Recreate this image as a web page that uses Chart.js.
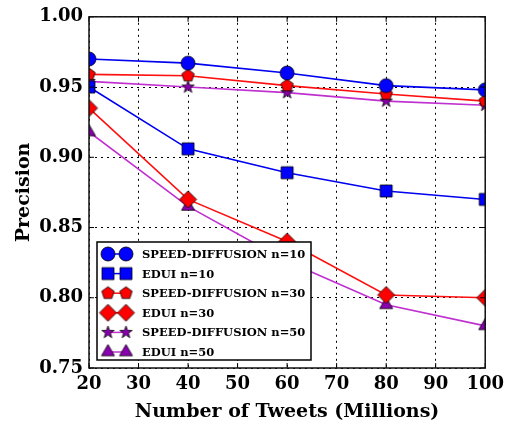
<!DOCTYPE html>
<html>
<head>
<meta charset="utf-8">
<script src="https://cdn.jsdelivr.net/npm/chart.js@4/dist/chart.umd.min.js"></script>
<style>
  body { margin: 0; background: #fff; }
  canvas { display: block; }
</style>
</head>
<body>
<canvas id="grafico" width="510" height="425"></canvas>
<script>
// datos
const tweets = [20, 40, 60, 80, 100];
const speed10 = [0.970, 0.967, 0.960, 0.951, 0.948];
const edui10 = [0.950, 0.906, 0.889, 0.876, 0.870];
const speed30 = [0.959, 0.958, 0.951, 0.945, 0.940];
const edui30 = [0.935, 0.870, 0.840, 0.802, 0.800];
const speed50 = [0.954, 0.950, 0.946, 0.940, 0.937];
const edui50 = [0.918, 0.865, 0.826, 0.795, 0.780];

const xTicks = [20, 30, 40, 50, 60, 70, 80, 90, 100];
const yTicks = [0.75, 0.80, 0.85, 0.90, 0.95, 1.00];

const FUENTE = "'DejaVu Serif', serif";

// ============================
// Marcadores (estilo matplotlib)
// ============================
function marcador(forma, r, color) {
  const s = Math.ceil(r * 2 + 4);
  const c = document.createElement("canvas");
  c.width = s; c.height = s;
  const ctx = c.getContext("2d");
  const cx = s / 2, cy = s / 2;
  ctx.beginPath();
  if (forma === "circulo") {
    ctx.arc(cx, cy, r, 0, Math.PI * 2);
  } else if (forma === "cuadrado") {
    ctx.rect(cx - r, cy - r, 2 * r, 2 * r);
  } else if (forma === "rombo") {
    ctx.moveTo(cx, cy - r); ctx.lineTo(cx + r, cy);
    ctx.lineTo(cx, cy + r); ctx.lineTo(cx - r, cy);
  } else if (forma === "triangulo") {
    ctx.moveTo(cx, cy - r); ctx.lineTo(cx + r * 0.87, cy + r * 0.5);
    ctx.lineTo(cx - r * 0.87, cy + r * 0.5);
  } else if (forma === "pentagono") {
    for (let i = 0; i < 5; i++) {
      const a = -Math.PI / 2 + i * 2 * Math.PI / 5;
      ctx.lineTo(cx + r * Math.cos(a), cy + r * Math.sin(a));
    }
  } else if (forma === "estrella") {
    for (let i = 0; i < 10; i++) {
      const a = -Math.PI / 2 + i * Math.PI / 5;
      const rr = i % 2 === 0 ? r : r * 0.4;
      ctx.lineTo(cx + rr * Math.cos(a), cy + rr * Math.sin(a));
    }
  }
  ctx.closePath();
  ctx.fillStyle = color;
  ctx.fill();
  ctx.lineWidth = 0.8;
  ctx.strokeStyle = "#000";
  ctx.stroke();
  return c;
}

const AZUL = "#0000f0", ROJO = "#ff1010", MORADO = "#c030d0", MORADO_M = "#8a00b0";

function serie(label, valores, color, punto) {
  return {
    label: label,
    data: tweets.map((x, i) => ({ x: x, y: valores[i] })),
    borderColor: color,
    backgroundColor: color,
    borderWidth: 1.6,
    pointStyle: punto,
    pointRadius: 7,
    tension: 0,
    clip: 0 // recorta al area, como matplotlib
  };
}

const datasets = [
  serie("SPEED-DIFFUSION n=10", speed10, AZUL, marcador("circulo", 7, "#0000ff")),
  serie("EDUI n=10", edui10, AZUL, marcador("cuadrado", 6, "#0000ff")),
  serie("SPEED-DIFFUSION n=30", speed30, ROJO, marcador("pentagono", 6.5, "#ff0000")),
  serie("EDUI n=30", edui30, ROJO, marcador("rombo", 8.5, "#ff0000")),
  serie("SPEED-DIFFUSION n=50", speed50, MORADO, marcador("estrella", 6.5, MORADO_M)),
  serie("EDUI n=50", edui50, MORADO, marcador("triangulo", 7.5, MORADO_M))
];

// ============================
// Leyenda dentro del grafico + marco
// ============================
const leyendaYMarco = {
  id: "leyendaYMarco",
  afterDraw(chart) {
    const ctx = chart.ctx;
    const area = chart.chartArea;
    const sx = chart.scales.x, sy = chart.scales.y;

    // leyenda
    const bx = area.left + 8, by = area.bottom - 126, bw = 214, bh = 118;
    ctx.save();
    ctx.fillStyle = "#fff";
    ctx.fillRect(bx, by, bw, bh);
    ctx.lineWidth = 1.5;
    ctx.strokeStyle = "#000";
    ctx.strokeRect(bx, by, bw, bh);
    ctx.font = "bold 11.5px " + FUENTE;
    ctx.textBaseline = "middle";
    chart.data.datasets.forEach((ds, i) => {
      const y = by + 12 + i * 19.6;
      ctx.beginPath();
      ctx.moveTo(bx + 11, y);
      ctx.lineTo(bx + 29, y);
      ctx.strokeStyle = ds.borderColor;
      ctx.lineWidth = 1.5;
      ctx.stroke();
      const m = ds.pointStyle;
      ctx.drawImage(m, bx + 11 - m.width / 2, y - m.height / 2);
      ctx.drawImage(m, bx + 29 - m.width / 2, y - m.height / 2);
      ctx.fillStyle = "#000";
      ctx.fillText(ds.label, bx + 45, y + 1);
    });

    // marcas hacia dentro
    ctx.strokeStyle = "#000";
    ctx.lineWidth = 1;
    ctx.beginPath();
    xTicks.forEach(v => {
      const px = sx.getPixelForValue(v);
      ctx.moveTo(px, area.bottom); ctx.lineTo(px, area.bottom - 5);
      ctx.moveTo(px, area.top); ctx.lineTo(px, area.top + 5);
    });
    yTicks.forEach(v => {
      const py = sy.getPixelForValue(v);
      ctx.moveTo(area.left, py); ctx.lineTo(area.left + 5, py);
      ctx.moveTo(area.right, py); ctx.lineTo(area.right - 5, py);
    });
    ctx.stroke();

    // marco
    ctx.lineWidth = 1.5;
    ctx.strokeStyle = "#111";
    ctx.strokeRect(area.left, area.top, area.right - area.left, area.bottom - area.top);
    ctx.restore();
  }
};

new Chart(document.getElementById("grafico"), {
  type: "line",
  data: { datasets: datasets },
  options: {
    responsive: false,
    animation: false,
    layout: { padding: { top: 13, right: 21, left: 0, bottom: 0 } },
    plugins: { legend: { display: false }, tooltip: { enabled: false } },
    scales: {
      x: {
        type: "linear",
        min: 20, max: 100,
        afterFit: s => { s.height = 57; },
        afterBuildTicks: s => { s.ticks = xTicks.map(v => ({ value: v })); },
        grid: { color: "#000", lineWidth: 1, drawTicks: false },
        border: { display: false, dash: [2, 4] },
        ticks: { color: "#000", padding: 6, font: { family: FUENTE, weight: "bold", size: 18 } },
        title: {
          display: true, text: "Number of Tweets (Millions)", color: "#000",
          font: { family: FUENTE, weight: "bold", size: 19 }, padding: { top: 0, bottom: 2 }
        }
      },
      y: {
        min: 0.75, max: 1.0,
        afterFit: s => { s.width = 89; },
        afterBuildTicks: s => { s.ticks = yTicks.map(v => ({ value: v })); },
        grid: { color: "#000", lineWidth: 1, drawTicks: false },
        border: { display: false, dash: [2, 4] },
        ticks: {
          color: "#000", padding: 6,
          font: { family: FUENTE, weight: "bold", size: 18 },
          callback: v => v.toFixed(2)
        },
        title: {
          display: true, text: "Precision", color: "#000",
          font: { family: FUENTE, weight: "bold", size: 19 }, padding: { top: 13, bottom: 0 }
        }
      }
    }
  },
  plugins: [leyendaYMarco]
});
</script>
</body>
</html>
